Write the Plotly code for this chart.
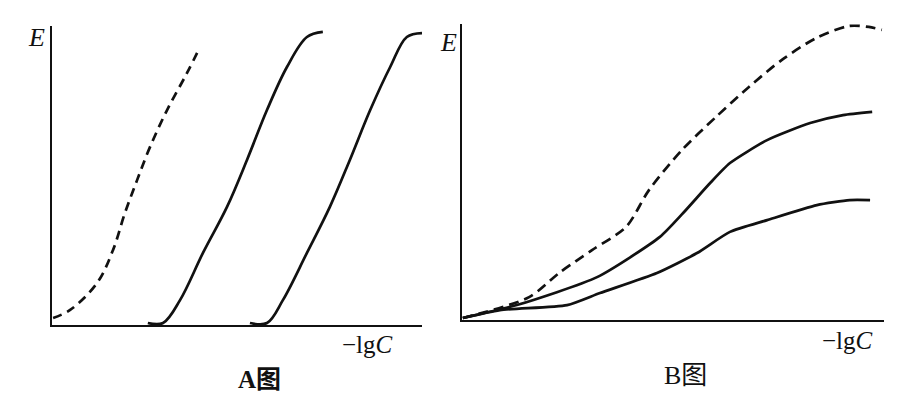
import plotly.graph_objects as go

# ---------------- data (relative units: -lgC 0..100, E 0..100) ----------------
# Panel A
a_dash_x = [0.3, 4.9, 12.2, 16.5, 19.7, 23.0, 26.5, 31.1, 36.5, 40.0]
a_dash_e = [1.7, 4.4, 13.5, 24.6, 37.0, 48.1, 59.3, 71.7, 84.2, 92.9]
a_s1_x = [25.9, 30.0, 34.6, 40.8, 47.3, 52.7, 58.1, 63.5, 68.9, 73.2]
a_s1_e = [0.0, 0.0, 7.7, 23.6, 39.1, 54.9, 71.7, 86.2, 96.3, 98.0]
a_s2_x = [53.5, 58.1, 62.4, 68.9, 75.1, 80.5, 86.0, 91.4, 95.9, 100.0]
a_s2_e = [0.0, 0.0, 7.7, 23.6, 39.1, 54.9, 71.7, 86.2, 96.3, 97.6]

# Panel B
b_dash_x = [0.2, 15.9, 23.0, 30.8, 38.9, 44.3, 52.1, 60.2, 68.0, 75.8, 83.9, 91.7, 96.4, 99.5]
b_dash_e = [0.0, 7.1, 15.3, 23.1, 31.0, 43.5, 57.1, 68.4, 78.6, 87.8, 95.2, 99.3, 99.0, 98.0]
b_up_x = [0.2, 13.0, 32.0, 46.9, 52.4, 58.8, 63.5, 72.3, 82.5, 90.3, 97.2]
b_up_e = [0.0, 4.4, 13.9, 27.6, 35.7, 45.9, 52.7, 60.5, 66.3, 69.0, 70.1]
b_lo_x = [0.2, 9.0, 24.9, 32.7, 46.2, 55.7, 63.5, 72.3, 84.1, 91.9, 96.7]
b_lo_e = [0.0, 2.7, 4.4, 8.5, 15.3, 22.1, 29.3, 33.3, 38.4, 40.1, 40.1]

# ---------------- layout (pixels on screen) ----------------
W, H = 900, 394
OFF = 8  # default page body margin: shift figure content to land on screen pixels
FONT = "Liberation Serif, Noto Sans CJK SC, serif"

def xd(p0, p1):
    return [(p0 - OFF) / W, (p1 - OFF) / W]

def yd(pb, pt):
    return [1 - (pb - OFF) / H, 1 - (pt - OFF) / H]

# Panel A: x 0..100 -> px 52..422 ; E 0..100 -> px 323..26
A_x0, A_x1, A_y0, A_y1, A_bot = 52, 422, 323, 26, 325
A_ppu = (A_y0 - A_y1) / 100.0
# Panel B: x 0..100 -> px 462..884 ; E 0..100 -> px 318..24
B_x0, B_x1, B_y0, B_y1, B_bot = 462, 884, 318, 24, 320
B_ppu = (B_y0 - B_y1) / 100.0

fig = go.Figure()
LW = 2.7
black = "#111111"

def add(x, y, dash, xa, ya, smooth=1.0):
    fig.add_trace(go.Scatter(
        x=x, y=y, mode="lines", xaxis=xa, yaxis=ya, hoverinfo="skip",
        line=dict(color=black, width=LW, dash=dash, shape="spline", smoothing=smooth),
        showlegend=False))

add(a_dash_x, a_dash_e, "9px,6px", "x", "y")
add(a_s1_x, a_s1_e, "solid", "x", "y", 1.0)
add(a_s2_x, a_s2_e, "solid", "x", "y", 1.0)
add(b_dash_x, b_dash_e, "10px,6px", "x2", "y2", 0.8)
add(b_up_x, b_up_e, "solid", "x2", "y2", 0.6)
add(b_lo_x, b_lo_e, "solid", "x2", "y2", 0.6)

ax_common = dict(showline=True, linecolor=black, linewidth=2, showgrid=False,
                 zeroline=False, showticklabels=False, ticks="", fixedrange=True)

fig.update_layout(
    width=W, height=H, margin=dict(l=0, r=0, t=0, b=0),
    paper_bgcolor="white", plot_bgcolor="white",
    xaxis=dict(domain=xd(A_x0, A_x1), range=[0, 100], anchor="y", **ax_common),
    yaxis=dict(domain=yd(A_bot, A_y1), range=[-(A_bot - A_y0) / A_ppu, 100], anchor="x", **ax_common),
    xaxis2=dict(domain=xd(B_x0, B_x1), range=[0, 100], anchor="y2", **ax_common),
    yaxis2=dict(domain=yd(B_bot, B_y1), range=[-(B_bot - B_y0) / B_ppu, 100], anchor="x2", **ax_common),
)

def label(text, px, py, size, bold=False):
    if bold:
        text = "<b>" + text + "</b>"
    fig.add_annotation(text=text, x=(px - OFF) / W, y=1 - (py - OFF) / H, xref="paper", yref="paper",
                       xanchor="center", yanchor="middle", showarrow=False,
                       font=dict(family=FONT, size=size, color=black))

label("<i>E</i>", 36, 37, 26)
label("<i>E</i>", 448, 43, 26)
label("−lg<i>C</i>", 367, 344, 25)
label("−lg<i>C</i>", 847, 340, 25)
label("A图", 259, 379, 25, bold=True)
label("B图", 685, 375, 26)

fig.write_html("out.html")
